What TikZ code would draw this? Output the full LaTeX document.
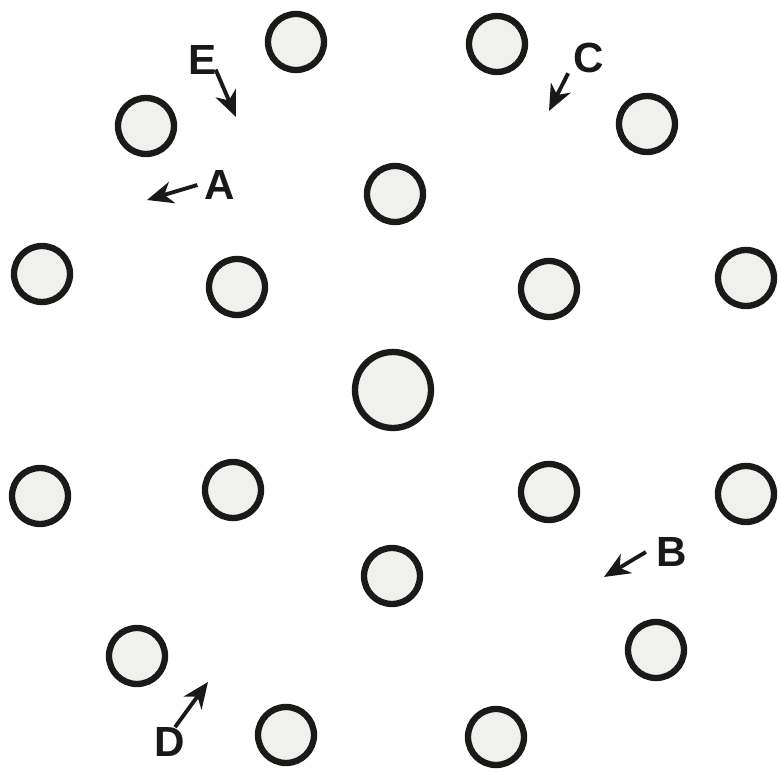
\documentclass[tikz,border=0pt]{standalone}
\usepackage{fontspec}
\setmainfont{Liberation Sans}
\usetikzlibrary{positioning, arrows.meta}

\definecolor{discfill}{HTML}{F0F0EC}
\definecolor{discedge}{HTML}{1A1A1A}

\tikzset{
    disc/.style={draw=discedge, fill=discfill, circle, line width=3.6pt, minimum size=1.12cm, inner sep=0pt},
    bigdisc/.style={disc, minimum size=1.52cm},
    letter/.style={inner sep=0pt, font=\fontsize{24}{28}\selectfont\bfseries, text=black!90},
    pointer/.style={-{Stealth[length=0.52cm, width=0.44cm, inset=0.16cm]}, line width=2.2pt, black!90}
}

\begin{document}
\begin{tikzpicture}[x=0.02cm, y=-0.02cm]
    \useasboundingbox (0,0) rectangle (779,776);

    % Outer and inner discs
    \node[disc] (top_left) at (296,42) {};
    \node[disc] (top_right) at (497,44) {};
    \node[disc] (upper_left) at (146,126) {};
    \node[disc] (upper_right) at (647,124) {};
    \node[disc] (inner_top) at (395,194) {};
    \node[disc] (far_left_a) at (42,274) {};
    \node[disc] (inner_left_a) at (237,287) {};
    \node[disc] (inner_right_a) at (549,289) {};
    \node[disc] (far_right_a) at (746,278) {};

    % Central disc
    \node[bigdisc] (centre) at (393,390) {};

    \node[disc] (far_left_b) at (40,496) {};
    \node[disc] (inner_left_b) at (233,490) {};
    \node[disc] (inner_right_b) at (549,492) {};
    \node[disc] (far_right_b) at (746,494) {};
    \node[disc] (inner_bottom) at (392,576) {};
    \node[disc] (lower_left) at (137,656) {};
    \node[disc] (lower_right) at (656,650) {};
    \node[disc] (bottom_left) at (286,735) {};
    \node[disc] (bottom_right) at (496,737) {};

    % Labels
    \node[letter] (lab_e) at (203,60) {E};
    \node[letter] (lab_c) at (589,58) {C};
    \node[letter] (lab_a) at (220,185) {A};
    \node[letter] (lab_b) at (672,552) {B};
    \node[letter] (lab_d) at (170,742) {D};

    \coordinate (tip_e) at (236,117);
    \coordinate (tip_c) at (549,111);
    \coordinate (tip_a) at (147,200);
    \coordinate (tip_b) at (604,577);
    \coordinate (tip_d) at (208,682);

    % Arrows
    \draw[pointer] ([xshift=-1,yshift=3]lab_e.south east) -- (tip_e);
    \draw[pointer] ([xshift=-3]lab_c.south west) -- (tip_c);
    \draw[pointer] ([xshift=-4]lab_a.west) -- (tip_a);
    \draw[pointer] ([xshift=-6]lab_b.west) -- (tip_b);
    \draw[pointer] ([xshift=-6]lab_d.north east) -- (tip_d);
\end{tikzpicture}
\end{document}
